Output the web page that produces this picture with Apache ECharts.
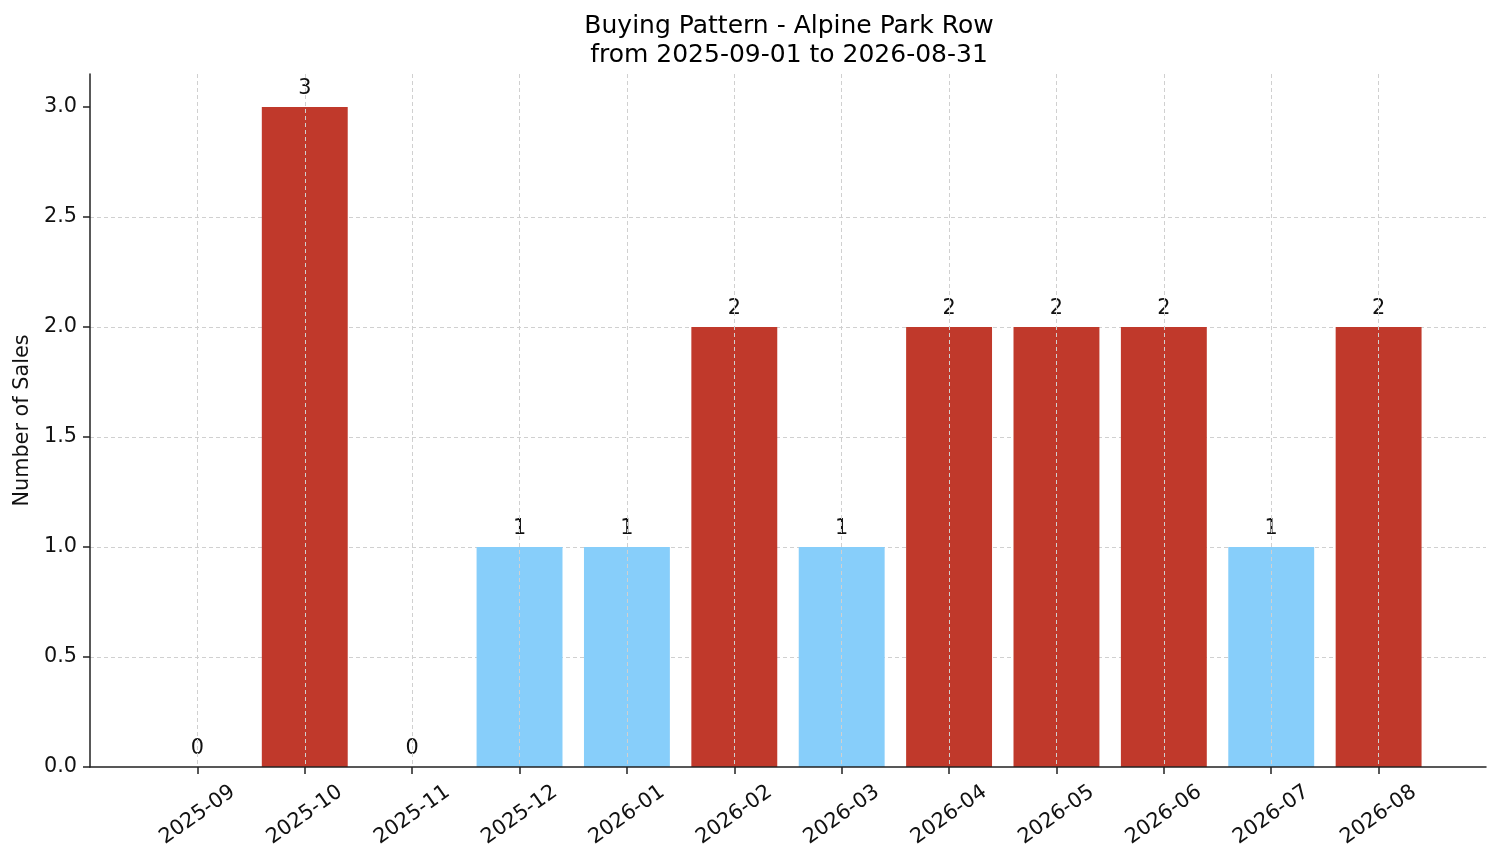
<!DOCTYPE html>
<html lang="en">
  <head>
    <meta charset="UTF-8" />
    <title>Buying Pattern - Alpine Park Row</title>
    <script src="https://cdn.jsdelivr.net/npm/echarts@6/dist/echarts.min.js"></script>
    <style>
      html, body { margin: 0; padding: 0; background: #fff; }
    </style>
  </head>
  <body>
    <div id="chart" style="width: 1501px; height: 863px"></div>

    <script>
      // months and number of sales per month
      var months = [
        "2025-09", "2025-10", "2025-11", "2025-12", "2026-01", "2026-02",
        "2026-03", "2026-04", "2026-05", "2026-06", "2026-07", "2026-08",
      ];
      var sales = [0, 3, 0, 1, 1, 2, 1, 2, 2, 2, 1, 2];
      var yTicks = [0, 0.5, 1.0, 1.5, 2.0, 2.5, 3.0];

      var highColor = "#c0392b";
      var lowColor = "#87cefa";
      var font = "DejaVu Sans";

      var mean = sales.reduce(function (a, b) { return a + b; }, 0) / sales.length;

      // pad one empty slot on each side so the axis runs past the first/last bar
      var axisCats = [""].concat(months, [""]);
      var barData = ["-"].concat(
        sales.map(function (v) {
          return { value: v, itemStyle: { color: v > mean ? highColor : lowColor } };
        }),
        ["-"]
      );
      function isMonth(index) {
        return index > 0 && index <= months.length;
      }

      var gridStyle = { color: "#d0d0d0", width: 1, type: [4, 3] };

      var myChart = echarts.init(document.getElementById("chart"));
      var option = {
        animation: false,
        backgroundColor: "#fff",
        textStyle: { fontFamily: font },
        title: {
          // centred over the plot area, not the page
          text: "Buying Pattern - Alpine Park Row\nfrom 2025-09-01 to 2026-08-31",
          left: 784,
          top: 7,
          textAlign: "center",
          textStyle: {
            fontFamily: font,
            fontSize: 25,
            fontWeight: "normal",
            color: "#000",
            lineHeight: 29,
          },
        },
        grid: { left: 90, right: 15, top: 74, bottom: 96 },
        xAxis: {
          type: "category",
          data: axisCats,
          boundaryGap: false,
          z: 3,
          axisLine: { lineStyle: { color: "#222", width: 1.5 } },
          axisTick: {
            interval: function (index) { return isMonth(index); },
            length: 7,
            lineStyle: { color: "#222", width: 1.5 },
          },
          axisLabel: {
            interval: 0,
            rotate: 35,
            align: "center",
            verticalAlign: "middle",
            margin: 48,
            fontSize: 20.8,
            color: "#111",
            fontFamily: font,
          },
          splitLine: {
            show: true,
            interval: function (index) { return isMonth(index); },
            lineStyle: gridStyle,
          },
        },
        yAxis: {
          type: "value",
          min: 0,
          max: 3.15,
          name: "Number of Sales",
          nameLocation: "middle",
          nameGap: 56,
          nameTextStyle: { fontSize: 20.8, color: "#111", fontFamily: font },
          axisLine: { show: true, lineStyle: { color: "#222", width: 1.5 } },
          axisTick: {
            show: true,
            length: 7,
            customValues: yTicks,
            lineStyle: { color: "#222", width: 1.5 },
          },
          axisLabel: {
            customValues: yTicks,
            margin: 13,
            fontSize: 20.8,
            color: "#111",
            fontFamily: font,
            formatter: function (v) { return v.toFixed(1); },
          },
          splitLine: {
            show: true,
            showMinLine: false,
            showMaxLine: false,
            lineStyle: gridStyle,
          },
        },
        series: [
          {
            name: "Sales",
            type: "bar",
            barWidth: "80%",
            data: barData,
            label: {
              show: true,
              position: "top",
              distance: 8,
              fontSize: 20.8,
              color: "#111",
              fontFamily: font,
            },
          },
        ],
      };

      myChart.setOption(option);
    </script>
  </body>
</html>
